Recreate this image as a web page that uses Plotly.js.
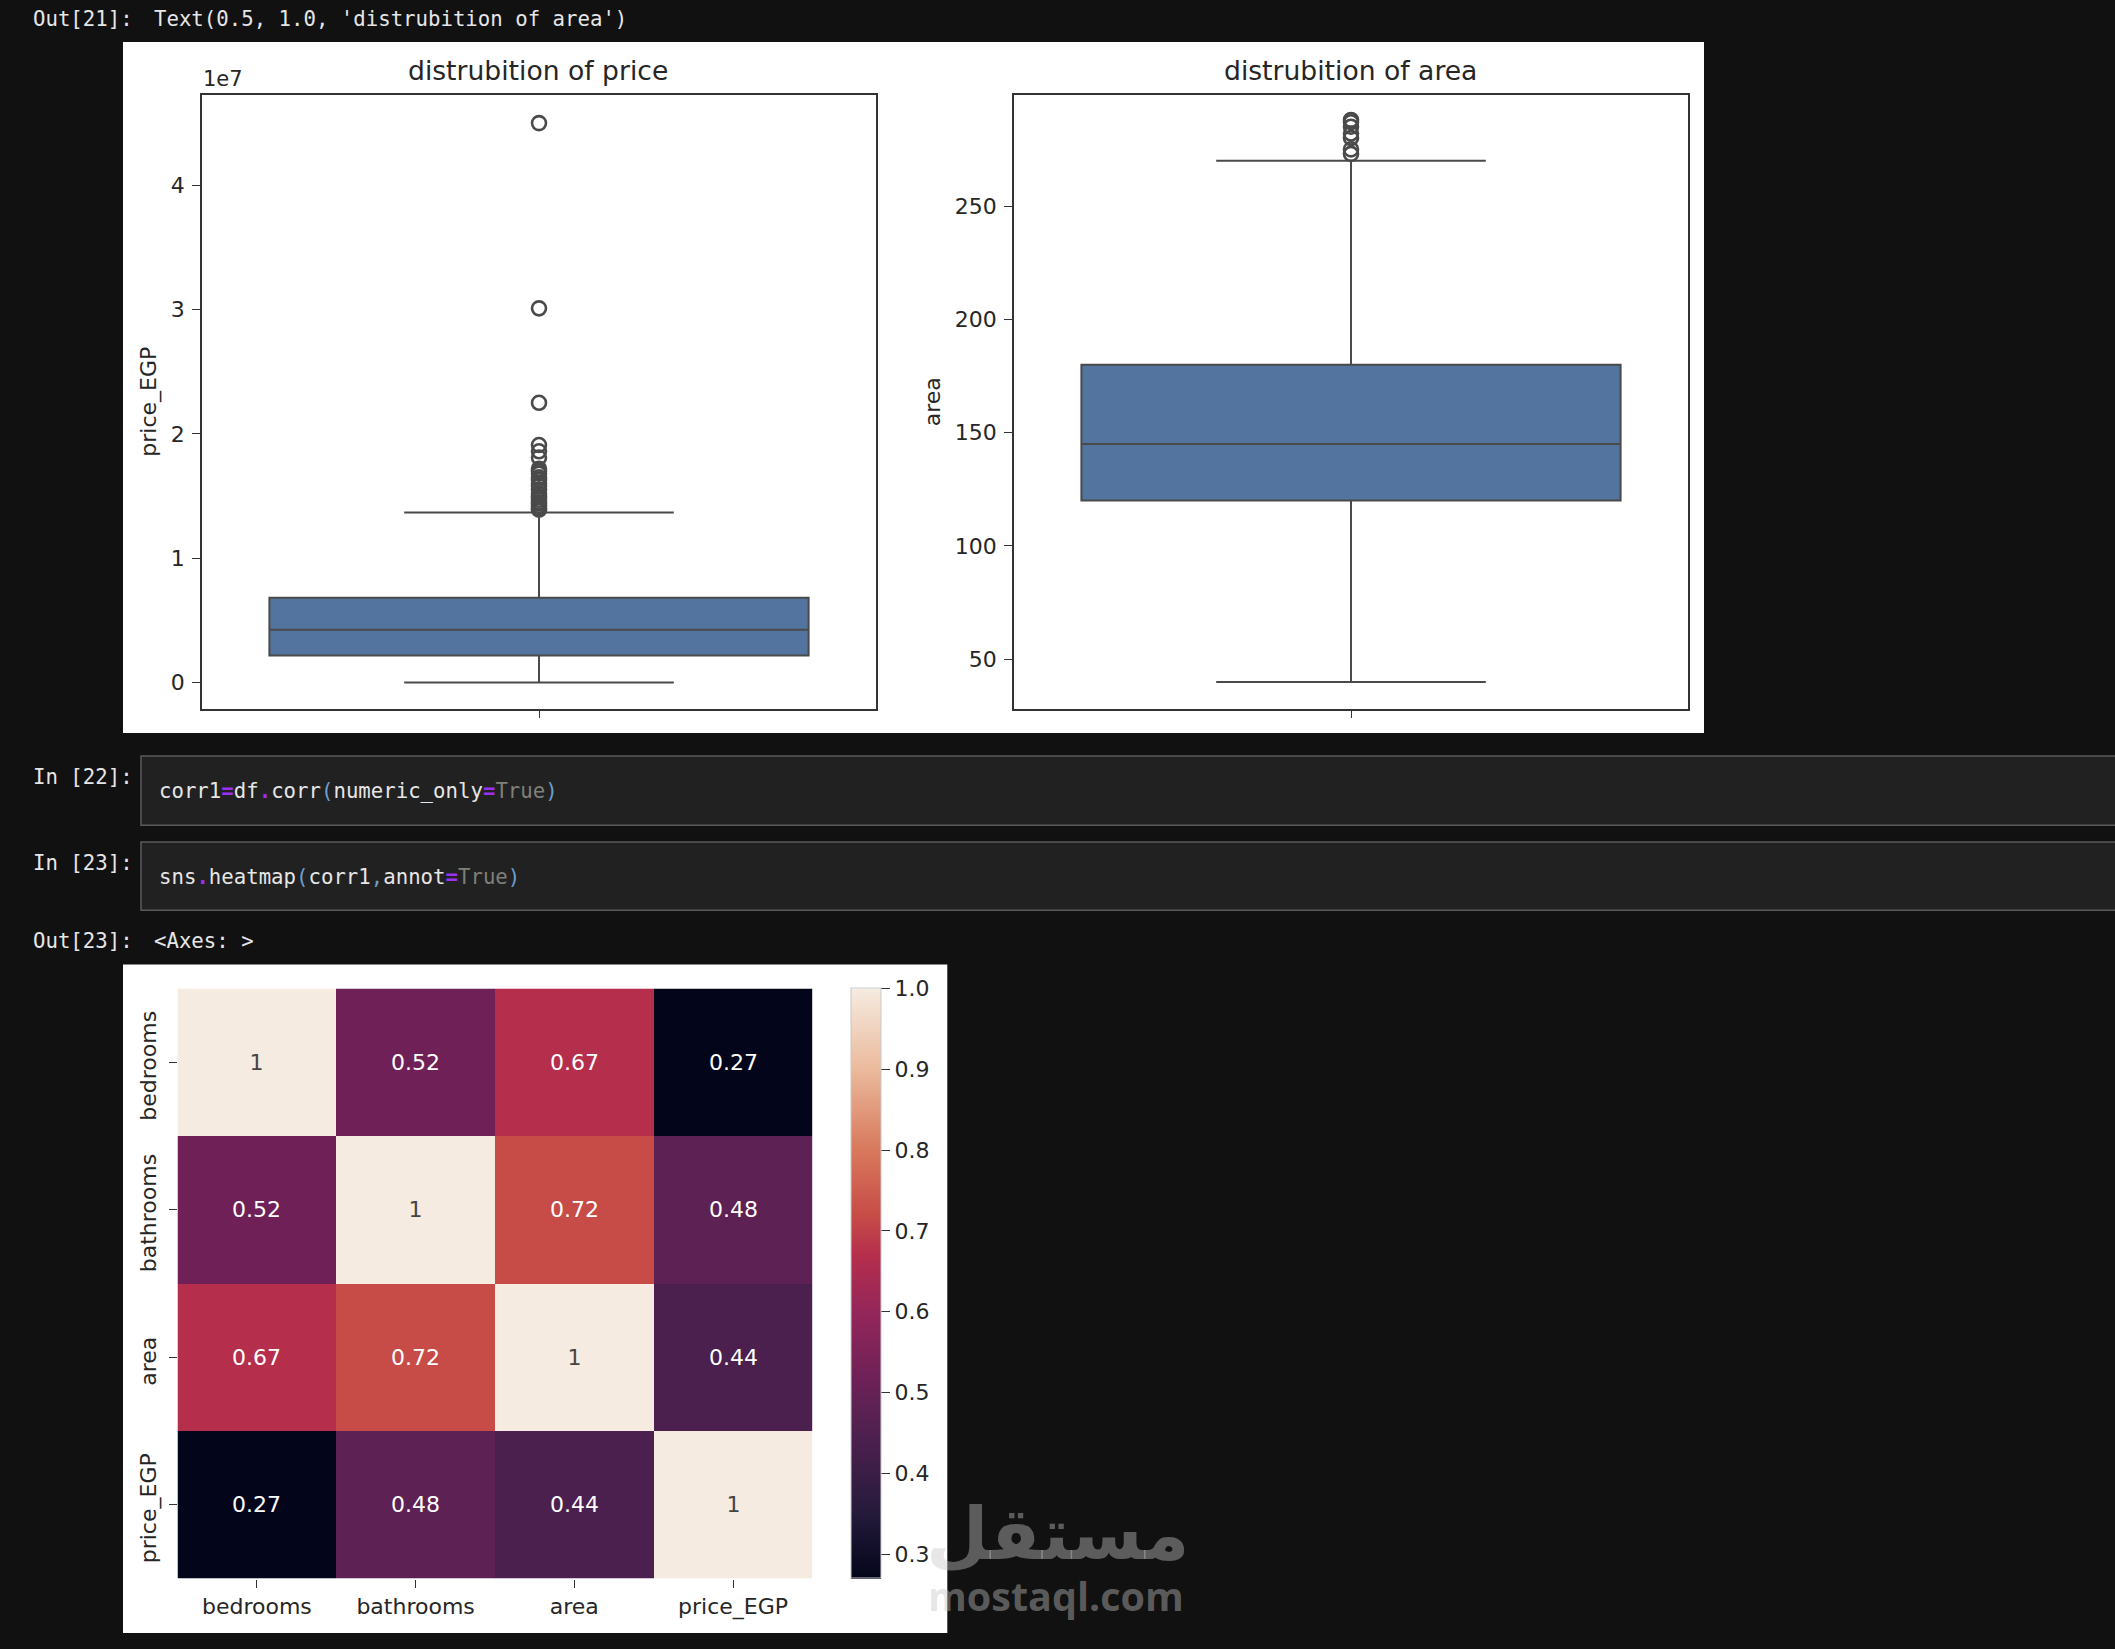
<!DOCTYPE html>
<html><head><meta charset="utf-8">
<script src="https://cdn.plot.ly/plotly-3.0.1.min.js"></script>
<style>html,body{margin:0;padding:0;background:#111111}</style></head>
<body><div id="chart" style="width:2115px;height:1649px"></div>
<script>
const priceOutliers = [13900000,14000000,14200000,14400000,14500000,14700000,14900000,15000000,15200000,15500000,15800000,16000000,16300000,16500000,16800000,17000000,17200000,18100000,18600000,19100000,22500000,30100000,45000000];
const priceBox = {q1:2180000, median:4250000, q3:6820000, lower:0, upper:13680000};
const areaOutliers = [273,275,280,282,285,287,288];
const areaBox = {q1:120, median:145, q3:180, lower:40, upper:270};
const priceTicks = [0,10000000,20000000,30000000,40000000];
const priceTickLabels = ['0','1','2','3','4'];
const areaTicks = [50,100,150,200,250];
const corrLabels = ['bedrooms','bathrooms','area','price_EGP'];
const corrValues = [
  [1,0.52,0.67,0.27],
  [0.52,1,0.72,0.48],
  [0.67,0.72,1,0.44],
  [0.27,0.48,0.44,1]];
const corrText = [
  ['1','0.52','0.67','0.27'],
  ['0.52','1','0.72','0.48'],
  ['0.67','0.72','1','0.44'],
  ['0.27','0.48','0.44','1']];
const cbarTicks = [0.3,0.4,0.5,0.6,0.7,0.8,0.9,1.0];
const cbarLabels = ['0.3','0.4','0.5','0.6','0.7','0.8','0.9','1.0'];
const corrScale = [[0,'#03051a'],[0.11,'#241a3a'],[0.233,'#4b204e'],[0.288,'#5d2153'],[0.342,'#6f2157'],[0.45,'#93265a'],[0.548,'#b52e4c'],[0.616,'#c74c47'],[0.726,'#d8785c'],[0.863,'#ebb99c'],[1,'#f5ebe0']];

const W=2115,H=1649;
const fx=p=>p/W, fy=p=>1-p/H;
const tickFont={family:'DejaVu Sans',size:22,color:'#262626'};
const mono='DejaVu Sans Mono';
const P='#9a30f0',B='#6d9ecf',G='#7f8078';
const c=(t,col)=>`<span style="color:${col}">${t}</span>`;
const pb=t=>`<b>${c(t,P)}</b>`;

function boxTrace(b,xa,ya){return {type:'box',x:[0],q1:[b.q1],median:[b.median],q3:[b.q3],lowerfence:[b.lower],upperfence:[b.upper],
  width:0.8,whiskerwidth:0.5,boxpoints:false,fillcolor:'#53749f',line:{color:'#4a4a4a',width:2},xaxis:xa,yaxis:ya,hoverinfo:'skip',showlegend:false};}
function outlierTrace(v,xa,ya){return {type:'scatter',mode:'markers',x:v.map(()=>0),y:v,marker:{symbol:'circle-open',size:14,color:'#4a4a4a',line:{color:'#4a4a4a',width:2.6}},xaxis:xa,yaxis:ya,hoverinfo:'skip',showlegend:false};}

const data=[
  boxTrace(priceBox,'x','y'),outlierTrace(priceOutliers,'x','y'),
  boxTrace(areaBox,'x2','y2'),outlierTrace(areaOutliers,'x2','y2'),
  {type:'heatmap',z:corrValues,x:corrLabels,y:corrLabels,text:corrText,texttemplate:'%{text}',
   textfont:{family:'DejaVu Sans',size:22},zmin:0.27,zmax:1,colorscale:corrScale,xaxis:'x3',yaxis:'y3',hoverinfo:'skip',
   colorbar:{x:fx(851),xanchor:'left',xpad:0,y:fy(988.5),yanchor:'top',ypad:0,len:590,lenmode:'pixels',thickness:30,thicknessmode:'pixels',
     tickmode:'array',tickvals:cbarTicks,ticktext:cbarLabels,tickprefix:'\u2009',ticks:'outside',ticklen:9,tickwidth:1.4,tickcolor:'#333333',tickfont:tickFont,outlinewidth:1,outlinecolor:'#c8c8c8',bgcolor:'rgba(0,0,0,0)'}}
];

const frame={showline:true,mirror:true,linewidth:1.5,linecolor:'#333333',showgrid:false,zeroline:false,ticks:'outside',ticklen:8,tickwidth:1.4,tickcolor:'#333333',tickfont:tickFont,ticklabelstandoff:3};
const xBox={...frame,range:[-0.5,0.5],tickmode:'array',tickvals:[0],ticktext:[' ']};

const layout={
  width:W,height:H,margin:{l:0,r:0,t:0,b:0},paper_bgcolor:'#111111',plot_bgcolor:'#ffffff',showlegend:false,
  xaxis:{...xBox,domain:[fx(202),fx(876)],anchor:'y'},
  yaxis:{...frame,domain:[fy(708.5),fy(95)],range:[-2090000,47260000],tickmode:'array',tickvals:priceTicks,ticktext:priceTickLabels,anchor:'x',
    title:{text:'price_EGP',font:tickFont,standoff:8}},
  xaxis2:{...xBox,domain:[fx(1014),fx(1688)],anchor:'y2'},
  yaxis2:{...frame,domain:[fy(708.5),fy(95)],range:[28.25,299],tickmode:'array',tickvals:areaTicks,anchor:'x2',
    title:{text:'area',font:tickFont,standoff:8}},
  xaxis3:{domain:[fx(177.5),fx(812.4)],anchor:'y3',type:'category',showline:false,showgrid:false,zeroline:false,ticks:'outside',ticklen:8,tickwidth:1.4,tickcolor:'#333333',tickfont:tickFont},
  yaxis3:{domain:[fy(1578.5),fy(988.5)],anchor:'x3',type:'category',autorange:'reversed',showline:false,showgrid:false,zeroline:false,ticks:'outside',ticklen:8,tickwidth:1.4,tickcolor:'#333333',showticklabels:false},
  shapes:[
    {type:'rect',xref:'paper',yref:'paper',layer:'below',x0:fx(123),x1:fx(1704),y0:fy(733),y1:fy(42),fillcolor:'#ffffff',line:{width:0}},
    {type:'rect',xref:'paper',yref:'paper',layer:'below',x0:fx(123),x1:fx(947.3),y0:fy(1633),y1:fy(964.5),fillcolor:'#ffffff',line:{width:0}},
    {type:'rect',xref:'paper',yref:'paper',layer:'below',x0:fx(141),x1:fx(2130),y0:fy(825.3),y1:fy(756),fillcolor:'#212121',line:{color:'#5a5a5a',width:1.5}},
    {type:'rect',xref:'paper',yref:'paper',layer:'below',x0:fx(141),x1:fx(2130),y0:fy(910.3),y1:fy(842),fillcolor:'#212121',line:{color:'#5a5a5a',width:1.5}}
  ],
  annotations:[]
};
function note(text,x,y,opt={}){layout.annotations.push({text,xref:'paper',yref:'paper',x:fx(x),y:fy(y),xanchor:opt.xa||'left',yanchor:'middle',showarrow:false,
  font:{family:opt.family||mono,size:opt.size||20.7,color:opt.color||'#e6e6e6',weight:opt.weight||'normal'}});}
note('Out[21]:',30.5,19.5);
note("Text(0.5, 1.0, 'distrubition of area')",152,19.5);
note('In [22]:',30.5,776.7);
note('corr1'+pb('=')+'df'+pb('.')+'corr'+c('(',B)+'numeric_only'+pb('=')+c('True',G)+c(')',B),156.5,790.7);
note('In [23]:',30.5,862.7);
note('sns'+pb('.')+'heatmap'+c('(',B)+'corr1'+c(',',B)+'annot'+pb('=')+c('True',G)+c(')',B),156.5,876.7);
note('Out[23]:',30.5,940.5);
note('&lt;Axes: &gt;',152,940.5);
note('distrubition of price',538,70.5,{family:'DejaVu Sans',size:26.6,color:'#262626',xa:'center'});
note('distrubition of area',1350,70.5,{family:'DejaVu Sans',size:26.6,color:'#262626',xa:'center'});
note('1e7',201,78.5,{family:'DejaVu Sans',size:21,color:'#262626'});
note('مستقل',1057,1534,{family:'DejaVu Sans',size:72,weight:'bold',color:'rgba(198,198,198,0.42)',xa:'center'});
note('mostaql.com',1056,1596,{family:'Open Sans',size:39.5,weight:700,color:'rgba(198,198,198,0.42)',xa:'center'});
corrLabels.forEach(l=>layout.annotations.push({text:l,xref:'paper',yref:'y3',x:fx(148.5),y:l,xanchor:'center',yanchor:'middle',yshift:-4,textangle:-90,showarrow:false,font:tickFont}));

Plotly.newPlot('chart',data,layout,{displayModeBar:false,responsive:false});
</script></body></html>
